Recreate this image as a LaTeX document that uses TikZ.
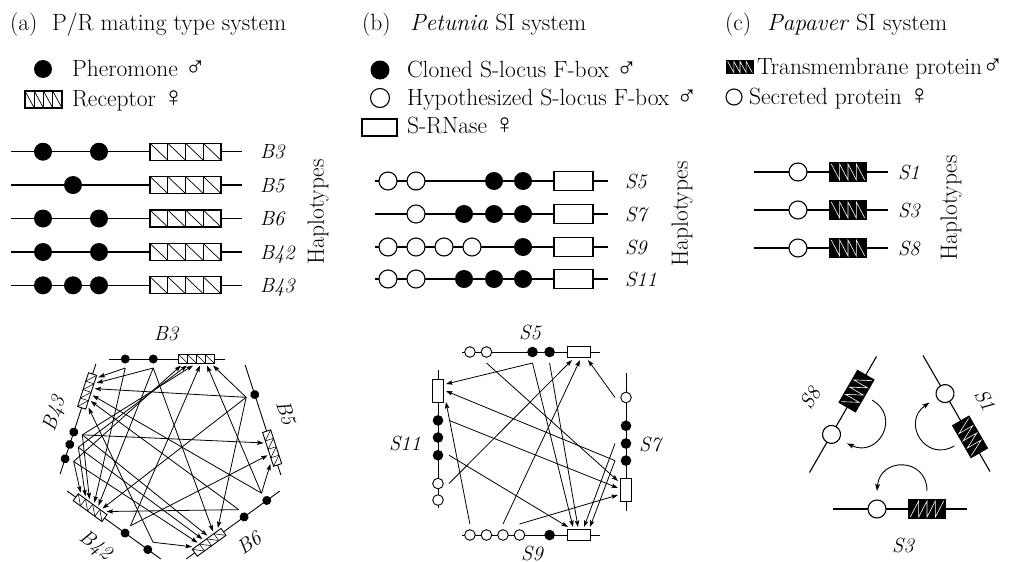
\documentclass[tikz,border=0pt]{standalone}
\usepackage{fontspec}
\usetikzlibrary{arrows.meta}
\newfontfamily\symf{Liberation Serif}
\newcommand\msym{{\symf\fontsize{28}{28}\selectfont ♂}}
\newcommand\fsym{{\symf\fontsize{28}{28}\selectfont ♀}}

\tikzset{
  every node/.style={inner sep=0pt, outer sep=0pt},
  txt/.style={anchor=base west, font=\fontsize{23.5}{26}\selectfont},
  lab/.style={font=\fontsize{20.5}{22}\selectfont\itshape},
  haplab/.style={font=\fontsize{23.5}{26}\selectfont, rotate=90},
  hap/.style={line width=1.1pt},
  thinl/.style={line width=0.7pt},
  arr/.style={line width=0.8pt, -{Stealth[length=6.5pt,width=4.4pt,inset=1.2pt]}},
  carr/.style={line width=0.9pt, -{Stealth[length=7pt,width=4.8pt,inset=1.2pt]}},
}

% receptor box: x0, y0, width, height, four hatched cells
\newcommand\rcpt[4]{%
  \draw[hap,fill=white] (#1,#2) rectangle ++(#3,#4);
  \foreach \kk in {0,1,2,3}
    \draw[thinl] ({#1+#3*\kk/4},{#2}) -- ({#1+#3*(\kk+1)/4},{#2+#4});
  \foreach \kk in {1,2,3}
    \draw[thinl] ({#1+#3*\kk/4},{#2}) -- ({#1+#3*\kk/4},{#2+#4});
}
% transmembrane box: x0, y0, width, height, black with white sawtooth
\newcommand\tmbox[4]{%
  \fill (#1,#2) rectangle ++(#3,#4);
  \draw[white, line width=0.6pt, line join=miter]
    ({#1+0.06*#3},{#2+0.1*#4}) -- ({#1+0.28*#3},{#2+0.9*#4})
    -- ({#1+0.28*#3},{#2+0.1*#4}) -- ({#1+0.5*#3},{#2+0.9*#4})
    -- ({#1+0.5*#3},{#2+0.1*#4}) -- ({#1+0.72*#3},{#2+0.9*#4})
    -- ({#1+0.72*#3},{#2+0.1*#4}) -- ({#1+0.94*#3},{#2+0.9*#4});
}
% P/R haplotype: pheromone positions
\newcommand\prhap[1]{%
  \draw[hap] (-115.5,0) -- (115.5,0);
  \foreach \pp in {#1} \fill (\pp,0) circle (9);
  \rcpt{23.5}{-8.5}{71}{17}
}
% Petunia haplotype: open positions, filled positions
\newcommand\sihap[2]{%
  \draw[hap] (-116.5,0) -- (116.5,0);
  \foreach \pp in {#1} \draw[hap,fill=white] (\pp,0) circle (9);
  \foreach \pp in {#2} \fill (\pp,0) circle (9);
  \draw[hap,fill=white] (62.5,-9.5) rectangle (101.5,9.5);
}
% Papaver haplotype
\newcommand\pphap{%
  \draw[hap] (-67,0) -- (67,0);
  \draw[hap,fill=white] (-23,0) circle (9);
  \tmbox{8}{-10}{38}{20}
}

\begin{document}
\begin{tikzpicture}[x=1pt,y=-1pt]
\useasboundingbox (0,0) rectangle (1017,562);
\fill[white] (0,0) rectangle (1017,562);

% ---------- titles ----------
\node[txt] (ta) at (10,30) {(a)};
\node[txt] (tan) at (52,30) {P/R mating type system};
\node[txt] (tb) at (362,30) {(b)};
\node[txt] (tbn) at (410,30) {\textit{Petunia} SI system};
\node[txt] (tc) at (725,30) {(c)};
\node[txt] (tcn) at (767,30) {\textit{Papaver} SI system};

% ---------- legends ----------
\fill (43,69) circle (9);
\node[txt] (la1) at (72,76) {Pheromone \msym};
\rcpt{25}{91}{37}{17}
\node[txt] (la2) at (72,106) {Receptor \fsym};

\fill (380,70) circle (9.5);
\node[txt] (lb1) at (407,77) {Cloned S-locus F-box \msym};
\draw[hap,fill=white] (380,98) circle (9.5);
\node[txt] (lb2) at (407,105) {Hypothesized S-locus F-box \msym};
\draw[hap,fill=white] (362,119) rectangle (397,136);
\node[txt] (lb3) at (407,133) {S-RNase \fsym};

\tmbox{726}{60}{28}{14}
\node[txt] (lc1) at (757,74) {Transmembrane protein\msym};
\draw[hap,fill=white] (734,97) circle (8);
\node[txt] (lc2) at (749,104) {Secreted protein \fsym};

% ---------- haplotype rows (a) ----------
\begin{scope}[shift={(126.5,151.7)}]\prhap{-83.5,-27.5}\end{scope}
\begin{scope}[shift={(126.5,185)}]\prhap{-53.5}\end{scope}
\begin{scope}[shift={(126.5,218.5)}]\prhap{-83.5,-27.5}\end{scope}
\begin{scope}[shift={(126.5,252)}]\prhap{-83.5,-27.5}\end{scope}
\begin{scope}[shift={(126.5,285.3)}]\prhap{-83.5,-53.5,-27.5}\end{scope}
\node[lab, anchor=base west] (rB3) at (260,158.7) {B3};
\node[lab, anchor=base west] (rB5) at (260,192) {B5};
\node[lab, anchor=base west] (rB6) at (260,225.5) {B6};
\node[lab, anchor=base west] (rB42) at (260,259) {B42};
\node[lab, anchor=base west] (rB43) at (260,292.3) {B43};
\node[haplab] (hapa) at (318,212) {Haplotypes};

% ---------- haplotype rows (b) ----------
\begin{scope}[shift={(491.5,181)}]\sihap{-103.5,-75.5}{2.5,31.5}\end{scope}
\begin{scope}[shift={(491.5,214)}]\sihap{-75.5}{-27.5,2.5,31.5}\end{scope}
\begin{scope}[shift={(491.5,247)}]\sihap{-103.5,-75.5,-47.5,-19.5}{31.5}\end{scope}
\begin{scope}[shift={(491.5,279)}]\sihap{-103.5,-75.5}{-27.5,2.5,31.5}\end{scope}
\node[lab, anchor=base west] (rS5) at (625,188) {S5};
\node[lab, anchor=base west] (rS7) at (625,221) {S7};
\node[lab, anchor=base west] (rS9) at (625,254) {S9};
\node[lab, anchor=base west] (rS11) at (625,286) {S11};
\node[haplab] (hapb) at (682,214) {Haplotypes};

% ---------- haplotype rows (c) ----------
\begin{scope}[shift={(821,172)}]\pphap\end{scope}
\begin{scope}[shift={(821,210)}]\pphap\end{scope}
\begin{scope}[shift={(821,248)}]\pphap\end{scope}
\node[lab, anchor=base west] (rP1) at (898,179) {S1};
\node[lab, anchor=base west] (rP3) at (898,217) {S3};
\node[lab, anchor=base west] (rP8) at (898,255) {S8};
\node[haplab] (hapc) at (951,208) {Haplotypes};

% ---------- P/R compatibility network ----------
\begin{scope}[hap/.style={line width=0.9pt}, thinl/.style={line width=0.55pt}]
  \begin{scope}[shift={(167,359)}]
    \begin{scope}[scale=0.5]\prhap{-83.5,-27.5}\end{scope}
    \coordinate (B3d1) at (-41.75,9);
    \coordinate (B3d3) at (-13.75,9);
    \foreach \uu in {14,20,26,33,40,46} \coordinate (B3-\uu) at (\uu,6.5);
  \end{scope}
  \begin{scope}[shift={(263,420)}, rotate=-72]
    \begin{scope}[scale=0.5]\prhap{-53.5}\end{scope}
    \coordinate (B5d2) at (-26.75,9);
    \foreach \uu in {22,35,44} \coordinate (B5-\uu) at (\uu,6.5);
  \end{scope}
  \begin{scope}[shift={(233,525)}, rotate=-144]
    \begin{scope}[scale=0.5]\prhap{-83.5,-27.5}\end{scope}
    \coordinate (B6d1) at (-41.75,9);
    \coordinate (B6d3) at (-13.75,9);
    \foreach \uu in {14,20,27,33,39,46} \coordinate (B6-\uu) at (\uu,6.5);
  \end{scope}
  \begin{scope}[shift={(114,525)}, rotate=144]
    \begin{scope}[scale=0.5]\prhap{-83.5,-27.5}\end{scope}
    \coordinate (B42d1) at (-41.75,9);
    \coordinate (B42d3) at (-13.75,9);
    \foreach \uu in {14,19,24,29,35,40,46} \coordinate (B42-\uu) at (\uu,6.5);
  \end{scope}
  \begin{scope}[shift={(78,419)}, rotate=72]
    \begin{scope}[scale=0.5]\prhap{-83.5,-53.5,-27.5}\end{scope}
    \coordinate (B43d1) at (-41.75,9);
    \coordinate (B43d2) at (-26.75,9);
    \coordinate (B43d3) at (-13.75,9);
    \foreach \uu in {14,21,27,34,40,46} \coordinate (B43-\uu) at (\uu,6.5);
  \end{scope}
\end{scope}
\node[lab] (nB3) at (166,334) {B3};
\node[lab, rotate=-72] (nB5) at (286,413) {B5};
\node[lab, rotate=36] (nB6) at (249,543) {B6};
\node[lab, rotate=-36] (nB42) at (95,546) {B42};
\node[lab, rotate=72] (nB43) at (55,414) {B43};

\foreach \src/\tgt in {B3d1/B43-46, B3d1/B42-29,
                   B3d3/B43-40, B3d3/B42-24, B3d3/B6-20,
                   B5d2/B3-46, B5d2/B43-34, B5d2/B42-19, B5d2/B6-14,
                   B6d1/B3-40, B6d1/B5-44, B6d1/B43-27,
                   B6d3/B42-14, B6d3/B43-21,
                   B42d3/B3-33, B42d3/B5-35,
                   B42d1/B6-46, B42d1/B43-14,
                   B43d3/B5-22, B43d3/B3-26, B43d3/B42-35, B43d3/B6-27,
                   B43d2/B3-20, B43d2/B42-40, B43d2/B6-33,
                   B43d1/B3-14, B43d1/B42-46, B43d1/B6-39}
  \draw[arr] (\src) -- (\tgt);

% ---------- Petunia compatibility network ----------
\begin{scope}[hap/.style={line width=0.9pt}]
  \begin{scope}[shift={(531,352)}]
    \begin{scope}[scale=0.59]\sihap{-103.5,-75.5}{2.5,31.5}\end{scope}
    \coordinate (S5O2) at (-44.5,11);
    \coordinate (S5F2) at (1.5,11);
    \coordinate (S5F3) at (18.6,11);
    \foreach \uu in {41,49,57} \coordinate (S5-\uu) at (\uu,8);
  \end{scope}
  \begin{scope}[shift={(626,442)}, rotate=-90]
    \begin{scope}[scale=0.59]\sihap{-75.5}{-27.5,2.5,31.5}\end{scope}
    \coordinate (S7O2) at (-44.5,11);
    \coordinate (S7F2) at (1.5,11);
    \coordinate (S7F3) at (18.6,11);
    \foreach \uu in {39,46,53} \coordinate (S7-\uu) at (\uu,8);
  \end{scope}
  \begin{scope}[shift={(531,535)}, yscale=-1]
    \begin{scope}[scale=0.59]\sihap{-103.5,-75.5,-47.5,-19.5}{31.5}\end{scope}
    \coordinate (S9O1) at (-61.1,11);
    \coordinate (S9O3) at (-28,11);
    \coordinate (S9O4) at (-11.5,11);
    \foreach \uu in {37,42,47,53,59} \coordinate (S9-\uu) at (\uu,8);
  \end{scope}
  \begin{scope}[shift={(438,439)}, rotate=90]
    \begin{scope}[scale=0.59]\sihap{-103.5,-75.5}{-27.5,2.5,31.5}\end{scope}
    \coordinate (S11O2) at (-44.5,11);
    \coordinate (S11F1) at (-16.2,11);
    \coordinate (S11F3) at (18.6,11);
    \foreach \uu in {37,48,55} \coordinate (S11-\uu) at (\uu,8);
  \end{scope}
\end{scope}
\node[lab] (nS5) at (530,332) {S5};
\node[lab] (nS7) at (650,444) {S7};
\node[lab] (nS9) at (532,553) {S9};
\node[lab] (nS11) at (405,443) {S11};

\foreach \src/\tgt in {S5F2/S11-55, S5F2/S9-42, S5F3/S9-47, S5O2/S7-39,
                   S7O2/S5-57, S7F2/S9-53, S7F3/S9-59, S7F3/S11-48,
                   S9O1/S11-37, S9O3/S5-49, S9O4/S7-53,
                   S11F3/S7-46, S11F1/S9-37, S11O2/S5-41}
  \draw[arr] (\src) -- (\tgt);

% ---------- Papaver self-recognition ----------
\begin{scope}[shift={(900,509)}, yscale=-1]
  \pphap
  \coordinate (P3b) at (27,18);
  \coordinate (P3c) at (-23,18);
  \draw[carr] (P3b) .. controls (27,52) and (-20,52) .. (P3c);
\end{scope}
\begin{scope}[shift={(843,414.5)}, rotate=60]
  \pphap
  \coordinate (P8b) at (27,18);
  \coordinate (P8c) at (-23,18);
  \draw[carr] (P8b) .. controls (27,52) and (-20,52) .. (P8c);
\end{scope}
\begin{scope}[shift={(956.5,413.5)}, rotate=-60]
  \pphap
  \coordinate (P1b) at (27,18);
  \coordinate (P1c) at (-23,18);
  \draw[carr] (P1b) .. controls (27,52) and (-20,52) .. (P1c);
\end{scope}
\node[lab] (nP3) at (903,545) {S3};
\node[lab, rotate=60] (nP8) at (810,398) {S8};
\node[lab, rotate=-60] (nP1) at (985,400) {S1};
\end{tikzpicture}
\end{document}
